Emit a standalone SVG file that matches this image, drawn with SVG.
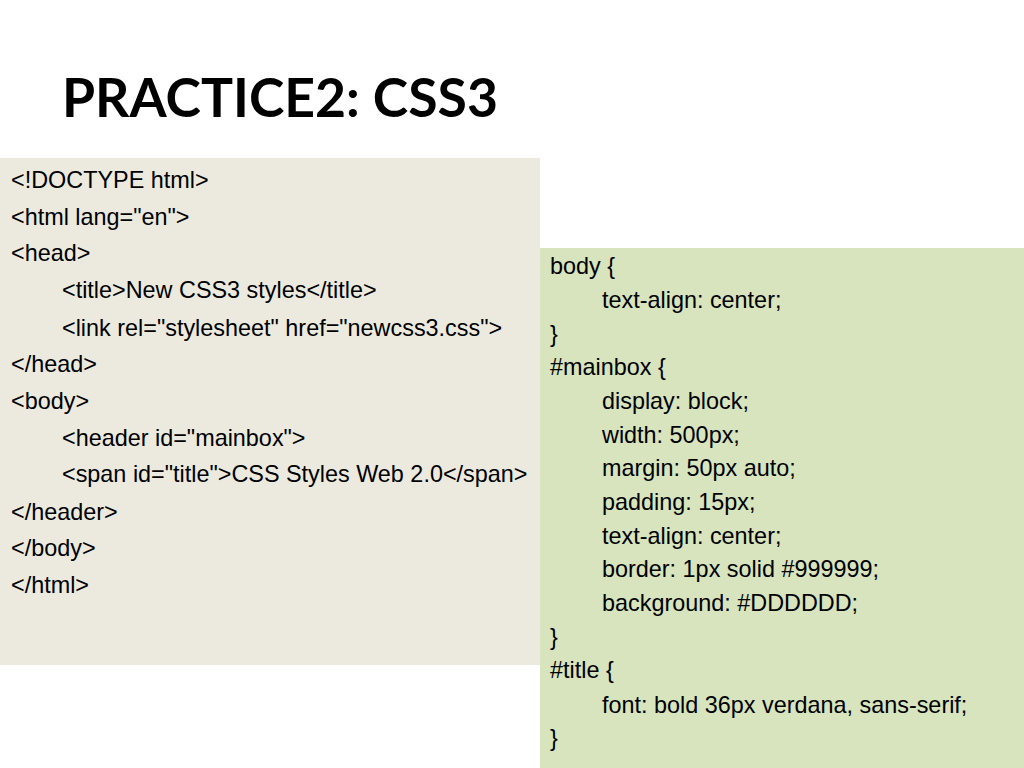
<svg xmlns="http://www.w3.org/2000/svg" width="1024" height="768" viewBox="0 0 1024 768">
<style>
.t{font-family:"Liberation Sans",Arial,sans-serif;font-size:23.4px;fill:#000}
.h{font-family:Lato,"Liberation Sans",sans-serif;font-size:53.5px;font-weight:bold;fill:#000}
</style>
<rect x="0" y="0" width="1024" height="768" fill="#fff"/>
<g id="title"><text class="h" x="62" y="117">PRACTICE2: CSS3</text></g>
<g id="html-box">
<rect x="0" y="158" width="540" height="507" fill="#ECEADF"/>
<text class="t" x="11" y="188">&lt;!DOCTYPE html&gt;</text>
<text class="t" x="11" y="225">&lt;html lang="en"&gt;</text>
<text class="t" x="11" y="261">&lt;head&gt;</text>
<text class="t" x="62" y="298">&lt;title&gt;New CSS3 styles&lt;/title&gt;</text>
<text class="t" x="62" y="336">&lt;link rel="stylesheet" href="newcss3.css"&gt;</text>
<text class="t" x="11" y="372">&lt;/head&gt;</text>
<text class="t" x="11" y="409">&lt;body&gt;</text>
<text class="t" x="62" y="446">&lt;header id="mainbox"&gt;</text>
<text class="t" x="62" y="482">&lt;span id="title"&gt;CSS Styles Web 2.0&lt;/span&gt;</text>
<text class="t" x="11" y="520">&lt;/header&gt;</text>
<text class="t" x="11" y="556">&lt;/body&gt;</text>
<text class="t" x="11" y="593">&lt;/html&gt;</text>
</g>
<g id="css-box">
<rect x="540" y="248" width="484" height="520" fill="#D7E4BD"/>
<text class="t" x="550" y="274">body {</text>
<text class="t" x="602" y="308">text-align: center;</text>
<text class="t" x="550" y="342">}</text>
<text class="t" x="550" y="375">#mainbox {</text>
<text class="t" x="602" y="409">display: block;</text>
<text class="t" x="602" y="443">width: 500px;</text>
<text class="t" x="602" y="476">margin: 50px auto;</text>
<text class="t" x="602" y="510">padding: 15px;</text>
<text class="t" x="602" y="544">text-align: center;</text>
<text class="t" x="602" y="577">border: 1px solid #999999;</text>
<text class="t" x="602" y="611">background: #DDDDDD;</text>
<text class="t" x="550" y="645">}</text>
<text class="t" x="550" y="678">#title {</text>
<text class="t" x="602" y="713">font: bold 36px verdana, sans-serif;</text>
<text class="t" x="550" y="746">}</text>
</g>
</svg>
